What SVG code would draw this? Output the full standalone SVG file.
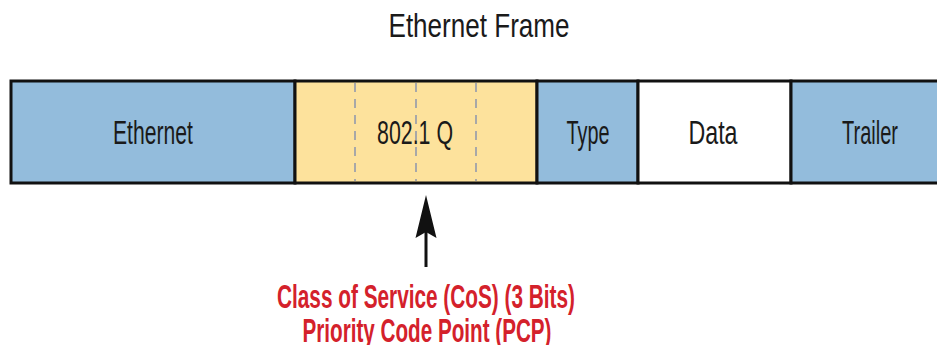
<svg xmlns="http://www.w3.org/2000/svg" width="937" height="345" viewBox="0 0 937 345">
<style>
.lbl{font-family:"Liberation Sans",Arial,sans-serif;font-size:34px;fill:#1a1a1a;text-anchor:middle}
.red{font-family:"Liberation Sans",Arial,sans-serif;font-size:33px;font-weight:bold;fill:#d4212b;text-anchor:middle}
.blue{fill:#93bcdc}
.seg{stroke:#111;stroke-width:3}
.dash{stroke:#a8a8a8;stroke-width:2;stroke-dasharray:9,7}
</style>
<rect width="937" height="345" fill="#fff"/>
<text id="title" class="lbl" x="479" y="37" textLength="181" lengthAdjust="spacingAndGlyphs">Ethernet Frame</text>
<g id="ethernet">
<rect class="blue seg" x="11" y="81" width="284" height="102"/>
<text class="lbl" x="153" y="144" textLength="80" lengthAdjust="spacingAndGlyphs">Ethernet</text>
</g>
<g id="dot1q">
<rect class="seg" fill="#fde29c" x="295" y="81" width="242" height="102"/>
<line class="dash" x1="355" y1="83" x2="355" y2="181"/>
<line class="dash" x1="416" y1="83" x2="416" y2="181"/>
<line class="dash" x1="476" y1="83" x2="476" y2="181"/>
<text class="lbl" x="415" y="144" textLength="76" lengthAdjust="spacingAndGlyphs">802.1 Q</text>
</g>
<g id="type">
<rect class="blue seg" x="537" y="81" width="101" height="102"/>
<text class="lbl" x="588" y="144" textLength="43" lengthAdjust="spacingAndGlyphs">Type</text>
</g>
<g id="data">
<rect class="seg" fill="#fff" x="638" y="81" width="153" height="102"/>
<text class="lbl" x="713" y="144" textLength="49" lengthAdjust="spacingAndGlyphs">Data</text>
</g>
<g id="trailer">
<rect class="blue seg" x="791" y="81" width="160" height="102"/>
<text class="lbl" x="870" y="144" textLength="56" lengthAdjust="spacingAndGlyphs">Trailer</text>
</g>
<g id="connectors">
<line x1="426" y1="267" x2="426" y2="225" stroke="#111" stroke-width="3"/>
<path d="M426,195 L436.5,238 L426,232 L415.5,238 Z" fill="#111"/>
</g>
<g id="cos-label">
<text class="red" x="426" y="308" textLength="298" lengthAdjust="spacingAndGlyphs">Class of Service (CoS) (3 Bits)</text>
<text class="red" x="427" y="342" textLength="249" lengthAdjust="spacingAndGlyphs">Priority Code Point (PCP)</text>
</g>
</svg>
